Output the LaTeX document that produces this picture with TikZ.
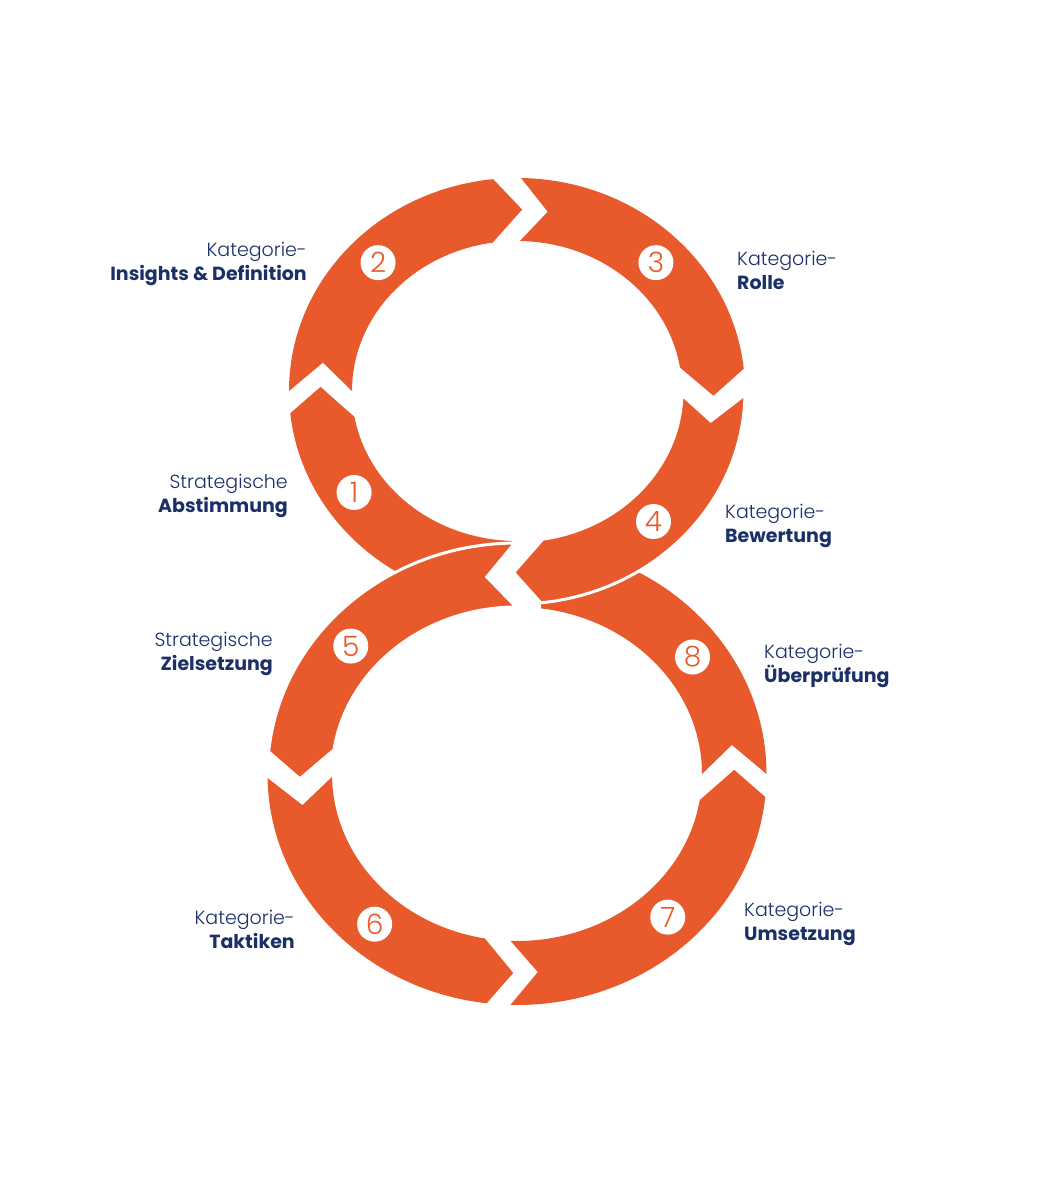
\documentclass[tikz,border=0pt]{standalone}
\usepackage{fontspec}
\setmainfont{Poppins}
\newfontfamily\lightfont{Poppins}[UprightFont=* Light]
\definecolor{segorange}{HTML}{E8592B}
\definecolor{navy}{HTML}{1B3068}
\tikzset{
  segment/.style={fill=segorange},
  over/.style={draw=white, line width=3pt},
  num/.style={circle, fill=white, text=segorange, minimum size=35pt, inner sep=0pt,
    font=\lightfont\fontsize{28}{28}\selectfont},
  catl/.style={text=navy, align=left, anchor=west, inner sep=0pt,
    font=\fontsize{19}{24}\selectfont},
  catr/.style={catl, align=right, anchor=east}
}
\newcommand{\upperring}{\def\cx{517}\def\cy{807}\def\rxo{228}\def\ryo{213}\def\rxi{165}\def\ryi{150}}
\newcommand{\lowerring}{\def\cx{517}\def\cy{424}\def\rxo{249.5}\def\ryo{231}\def\rxi{185}\def\ryi{167}}
\newcommand{\ringseg}[7][]{%
  \path[segment,#1] ({\cx+\rxo*cos(#2)},{\cy+\ryo*sin(#2)})
    arc[start angle=#2, end angle=#5, x radius=\rxo, y radius=\ryo]
    -- ({\cx+(\rxo+\rxi)/2*cos(#7)},{\cy+(\ryo+\ryi)/2*sin(#7)})
    -- ({\cx+\rxi*cos(#6)},{\cy+\ryi*sin(#6)})
    arc[start angle=#6, end angle=#3, x radius=\rxi, y radius=\ryi]
    -- ({\cx+(\rxo+\rxi)/2*cos(#4)},{\cy+(\ryo+\ryi)/2*sin(#4)}) -- cycle;}
\begin{document}
\begin{tikzpicture}[x=1pt, y=1pt]
\fill[white] (0,0) rectangle (1040,1198);
\upperring
\ringseg{254.2}{268.3}{258}{186}{190}{178.7}
\lowerring
\ringseg{0}{0}{8.4}{84.5}{82.5}{83.5}
\upperring
\ringseg{180}{180}{171}{96}{98.5}{88.5}
\ringseg{89}{89}{81}{6}{9}{-1.5}
\lowerring
\ringseg{181}{181}{189}{263}{260}{269}
\ringseg{-91.5}{-92}{-84.5}{-5.7}{-9}{1.2}
\upperring
\ringseg[over]{-1}{-1.5}{-9.5}{-84}{-81}{-91}
\lowerring
\ringseg[over]{90.5}{90.3}{98}{174.5}{171.7}{181.4}

\node[num] (c1) at ([shift={(517,807)}]214:196.5 and 181.5) {1};
\node[num] (c2) at ([shift={(517,807)}]135:196.5 and 181.5) {2};
\node[num] (c3) at ([shift={(517,807)}]45:196.5 and 181.5) {3};
\node[num] (c4) at ([shift={(517,807)}]314:196.5 and 181.5) {4};
\node[num] (c5) at ([shift={(517,424)}]140:217 and 199) {5};
\node[num] (c6) at ([shift={(517,424)}]229:217 and 199) {6};
\node[num] (c7) at ([shift={(517,424)}]314:217 and 199) {7};
\node[num] (c8) at ([shift={(517,424)}]36:217 and 199) {8};

\node[catr] (abst) at (288,702) {{\lightfont Strategische}\\\textbf{Abstimmung}};
\node[catr] (ins) at (307,934) {{\lightfont Kategorie-}\\\textbf{Insights \& Definition}};
\node[catl] (rol) at (737,928) {{\lightfont Kategorie-}\\\textbf{Rolle}};
\node[catl] (bew) at (725,672) {{\lightfont Kategorie-}\\\textbf{Bewertung}};
\node[catr] (ziel) at (273,544) {{\lightfont Strategische}\\\textbf{Zielsetzung}};
\node[catr] (tak) at (295,269) {{\lightfont Kategorie-}\\\textbf{Taktiken}};
\node[catl] (ums) at (744,274) {{\lightfont Kategorie-}\\\textbf{Umsetzung}};
\node[catl] (ueb) at (764,532) {{\lightfont Kategorie-}\\\textbf{Überprüfung}};
\end{tikzpicture}
\end{document}
